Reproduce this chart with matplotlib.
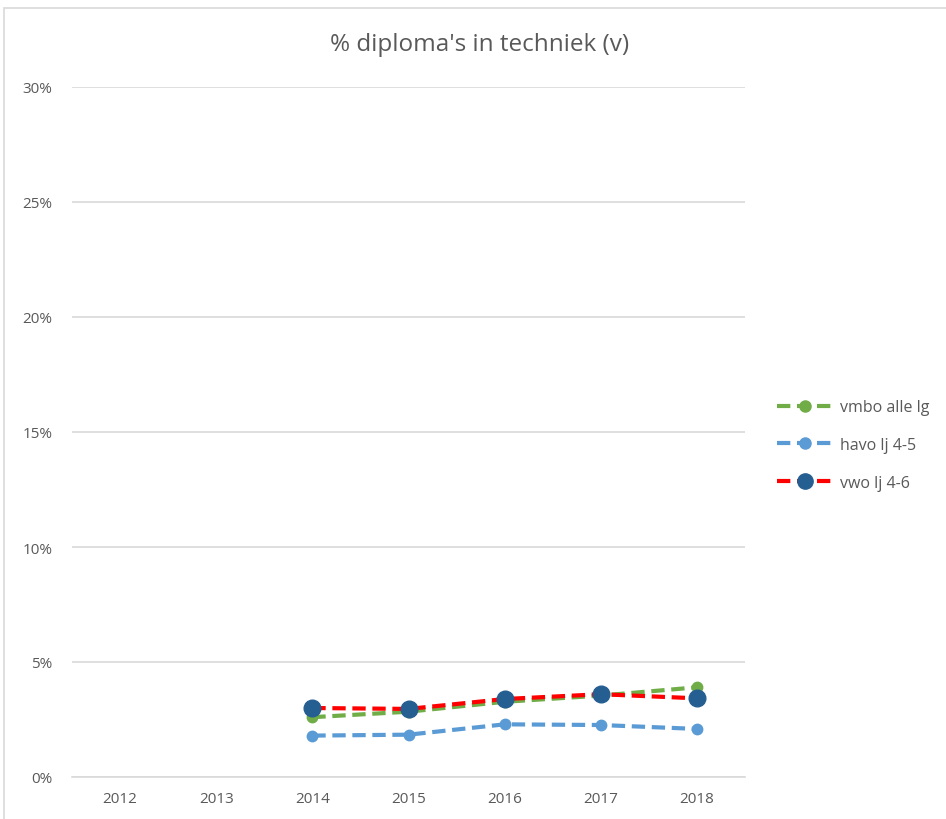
import numpy as np
import matplotlib.pyplot as plt
from matplotlib.patches import Rectangle
from matplotlib.ticker import PercentFormatter

plt.rcParams['font.family'] = ['Open Sans', 'DejaVu Sans']

years = ['2012', '2013', '2014', '2015', '2016', '2017', '2018']
vmbo = [np.nan, np.nan, 0.026, 0.0284, 0.0327, 0.0354, 0.039]
havo = [np.nan, np.nan, 0.018, 0.0184, 0.0229, 0.0226, 0.0209]
vwo = [np.nan, np.nan, 0.030, 0.0296, 0.0339, 0.036, 0.0342]

grey = '#595959'

fig = plt.figure(figsize=(9.46, 8.2), dpi=100)
fig.patches.append(Rectangle((4 / 946, -0.1), 1.1, (820 - 9) / 820 + 0.1,
                             transform=fig.transFigure, fill=False,
                             edgecolor='#d9d9d9', linewidth=1.2))
ax = fig.add_axes([72 / 946, 42 / 820, (745 - 72) / 946, (778 - 88) / 820])

x = np.arange(len(years))
dash = (0, (3.2, 1.6))
ax.plot(x, vmbo, color='#70AD47', lw=3, ls=dash, marker='o', ms=7.5,
        label='vmbo alle lg')
ax.plot(x, havo, color='#5B9BD5', lw=3, ls=dash, marker='o', ms=7.5,
        label='havo lj 4-5')
ax.plot(x, vwo, color='#FF0000', lw=3, ls=dash, marker='o', ms=12,
        markerfacecolor='#255E91', markeredgecolor='#255E91', label='vwo lj 4-6')

ax.set_xlim(-0.5, len(years) - 0.5)
ax.set_ylim(0, 0.30)
ax.set_xticks(x)
ax.set_xticklabels(years)
ax.set_yticks(np.arange(0, 0.31, 0.05))
ax.yaxis.set_major_formatter(PercentFormatter(1.0, decimals=0))
ax.grid(axis='y', color='#d9d9d9', lw=1.2)
ax.set_axisbelow(True)
for s in ['top', 'right', 'left']:
    ax.spines[s].set_visible(False)
ax.spines['bottom'].set_color('#d9d9d9')
ax.spines['bottom'].set_linewidth(1.2)
ax.tick_params(length=0, labelsize=11, colors=grey)
ax.tick_params(axis='y', pad=14)
ax.tick_params(axis='x', pad=10)

fig.text(480 / 946, 1 - 45 / 820, "% diploma's in techniek (v)", ha='center',
         va='center', fontsize=17.5, color=grey)

leg = ax.legend(loc='center left', bbox_to_anchor=(763 / 946, 1 - 446 / 820),
                bbox_transform=fig.transFigure, frameon=False, fontsize=11.5,
                labelcolor=grey, handlelength=3.4, handletextpad=0.5,
                labelspacing=1.35)
for h in leg.get_lines():
    h.set_markersize(8)
leg.get_lines()[2].set_markersize(11)

fig.savefig('out.png', dpi=100)
